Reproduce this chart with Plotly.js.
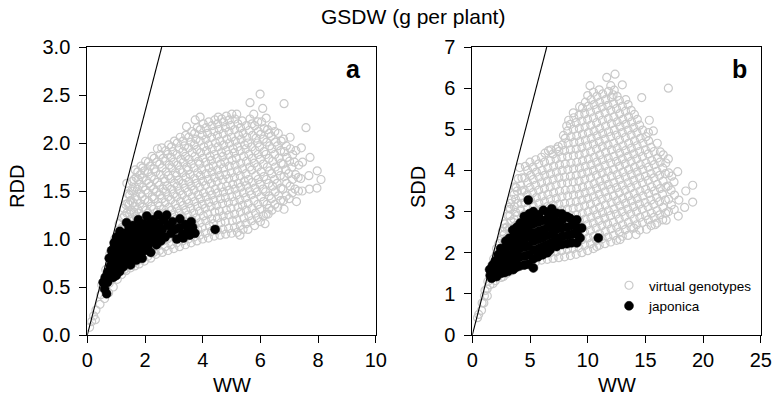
<!DOCTYPE html>
<html>
<head>
<meta charset="utf-8">
<script src="https://cdn.plot.ly/plotly-3.0.1.min.js"></script>
<style>html,body{margin:0;padding:0;background:#fff;}#chart{width:773px;height:399px;}</style>
</head>
<body>
<div id="chart"></div>
<script>
// Panel a: RDD vs WW (GSDW, g per plant)
const rddVirtual = [
[0.08,0.08],[0.15,0.14],[0.22,0.2],[0.28,0.16],[0.3,0.26],
[0.44,0.32],[0.47,0.42],[0.5,0.52],
[0.6,0.38],[0.58,0.48],[0.62,0.58],[0.64,0.68],
[0.74,0.44],[0.76,0.54],[0.73,0.64],[0.77,0.74],[0.78,0.84],
[0.9,0.5],[0.88,0.6],[0.92,0.7],[0.89,0.8],[0.93,0.9],[0.95,1.0],
[1.04,0.58],[1.07,0.66],[1.03,0.76],[1.06,0.86],[1.04,0.96],[1.08,1.06],[1.1,1.16],
[1.19,0.63],[1.22,0.72],[1.18,0.82],[1.21,0.92],[1.24,1.02],[1.2,1.12],[1.23,1.22],[1.26,1.32],
[1.34,0.67],[1.37,0.77],[1.33,0.87],[1.36,0.97],[1.38,1.07],[1.35,1.17],[1.37,1.27],[1.4,1.37],[1.42,1.47],[1.37,1.58],
[1.5,0.7],[1.52,0.8],[1.48,0.9],[1.51,1.0],[1.53,1.1],[1.49,1.2],[1.52,1.3],[1.5,1.4],[1.54,1.5],[1.56,1.6],
[1.65,0.72],[1.63,0.84],[1.67,0.94],[1.64,1.04],[1.66,1.14],[1.68,1.24],[1.64,1.34],[1.67,1.44],[1.65,1.54],[1.69,1.64],[1.66,1.72],
[1.8,0.74],[1.82,0.85],[1.78,0.96],[1.81,1.06],[1.84,1.16],[1.79,1.27],[1.82,1.37],[1.85,1.47],[1.8,1.57],[1.83,1.67],[1.86,1.76],
[1.98,0.77],[2.01,0.88],[2.03,0.99],[1.97,1.09],[2.0,1.2],[2.04,1.3],[1.99,1.41],[2.02,1.51],[2.05,1.61],[1.98,1.71],[2.02,1.81],
[2.2,0.8],[2.18,0.92],[2.23,1.02],[2.2,1.13],[2.17,1.24],[2.22,1.34],[2.25,1.44],[2.19,1.55],[2.22,1.65],[2.18,1.76],[2.24,1.86],
[2.38,0.84],[2.41,0.96],[2.44,1.06],[2.39,1.17],[2.42,1.28],[2.45,1.38],[2.4,1.49],[2.43,1.59],[2.37,1.7],[2.41,1.8],[2.43,1.94],
[2.6,0.86],[2.62,0.98],[2.58,1.09],[2.61,1.2],[2.64,1.31],[2.59,1.42],[2.62,1.52],[2.65,1.63],[2.6,1.74],[2.63,1.84],[2.58,1.95],
[2.8,0.88],[2.78,1.0],[2.82,1.11],[2.79,1.22],[2.83,1.33],[2.8,1.44],[2.77,1.55],[2.81,1.66],[2.84,1.77],[2.79,1.88],[2.82,1.98],
[3.0,0.9],[3.03,1.02],[2.98,1.13],[3.01,1.25],[3.04,1.36],[2.99,1.47],[3.02,1.58],[3.05,1.69],[3.0,1.8],[2.97,1.91],[3.02,2.02],
[3.2,0.92],[3.18,1.04],[3.22,1.16],[3.19,1.27],[3.23,1.39],[3.2,1.5],[3.17,1.61],[3.21,1.72],[3.24,1.83],[3.19,1.94],[3.22,2.06],
[3.4,0.94],[3.43,1.06],[3.38,1.18],[3.41,1.3],[3.44,1.41],[3.39,1.53],[3.42,1.64],[3.45,1.75],[3.4,1.86],[3.37,1.97],[3.41,2.08],[3.44,2.17],
[3.6,0.96],[3.58,1.08],[3.62,1.2],[3.59,1.32],[3.63,1.44],[3.6,1.55],[3.57,1.67],[3.61,1.78],[3.64,1.9],[3.59,2.01],[3.62,2.12],[3.74,2.24],
[3.8,0.98],[3.83,1.1],[3.78,1.22],[3.81,1.34],[3.84,1.46],[3.79,1.58],[3.82,1.69],[3.85,1.81],[3.8,1.93],[3.77,2.04],[3.81,2.16],[3.91,2.27],
[4.0,1.0],[3.98,1.12],[4.02,1.24],[3.99,1.36],[4.03,1.48],[4.0,1.6],[3.97,1.72],[4.01,1.84],[4.04,1.96],[3.99,2.08],[4.02,2.2],
[4.2,1.01],[4.23,1.14],[4.18,1.26],[4.21,1.38],[4.24,1.5],[4.19,1.62],[4.22,1.74],[4.25,1.86],[4.2,1.98],[4.17,2.1],[4.21,2.22],
[4.4,1.03],[4.38,1.16],[4.42,1.28],[4.39,1.4],[4.43,1.52],[4.4,1.64],[4.37,1.76],[4.41,1.88],[4.44,2.0],[4.39,2.12],[4.42,2.24],
[4.6,1.04],[4.63,1.17],[4.58,1.29],[4.61,1.42],[4.64,1.54],[4.59,1.66],[4.62,1.78],[4.65,1.9],[4.6,2.02],[4.57,2.14],[4.54,2.27],[4.66,2.25],
[4.8,1.05],[4.78,1.18],[4.82,1.3],[4.79,1.43],[4.83,1.55],[4.8,1.67],[4.77,1.8],[4.81,1.92],[4.84,2.04],[4.79,2.16],[4.82,2.28],
[5.0,1.06],[5.03,1.19],[4.98,1.32],[5.01,1.44],[5.04,1.57],[4.99,1.69],[5.02,1.82],[5.05,1.94],[5.0,2.06],[4.97,2.18],[5.01,2.3],
[5.2,1.07],[5.18,1.2],[5.22,1.33],[5.19,1.46],[5.23,1.58],[5.2,1.71],[5.17,1.84],[5.21,1.96],[5.24,2.08],[5.18,2.3],[5.22,2.2],
[5.29,1.04],[5.4,1.1],[5.43,1.22],[5.38,1.35],[5.41,1.48],[5.44,1.6],[5.39,1.73],[5.42,1.86],[5.45,1.98],[5.4,2.1],[5.37,2.23],
[5.57,1.1],[5.6,1.24],[5.58,1.37],[5.62,1.5],[5.59,1.62],[5.63,1.75],[5.6,1.88],[5.57,2.0],[5.61,2.13],[5.64,2.25],[5.64,2.42],
[5.8,1.14],[5.83,1.27],[5.78,1.4],[5.81,1.53],[5.84,1.66],[5.79,1.79],[5.82,1.92],[5.85,2.05],[5.8,2.18],[5.77,2.3],
[6.0,1.18],[5.98,1.31],[6.02,1.44],[5.99,1.57],[6.03,1.7],[6.0,1.83],[5.97,1.96],[6.01,2.09],[6.04,2.22],[6.08,2.36],[5.99,2.51],
[6.16,1.16],[6.2,1.26],[6.23,1.36],[6.18,1.49],[6.21,1.62],[6.24,1.75],[6.19,1.88],[6.22,2.01],[6.25,2.14],[6.2,2.26],
[6.27,1.26],[6.4,1.3],[6.38,1.42],[6.42,1.55],[6.39,1.68],[6.43,1.81],[6.4,1.94],[6.37,2.07],[6.41,2.18],
[6.6,1.33],[6.63,1.45],[6.58,1.58],[6.61,1.71],[6.64,1.84],[6.59,1.97],[6.62,2.1],
[6.82,1.31],[6.8,1.4],[6.78,1.52],[6.82,1.65],[6.79,1.78],[6.83,1.91],[6.8,2.04],[6.82,2.41],
[7.0,1.42],[7.03,1.55],[6.98,1.68],[7.01,1.81],[7.04,1.94],[7.03,2.06],
[7.25,1.39],[7.2,1.52],[7.22,1.67],[7.18,1.8],[7.23,1.92],
[7.45,1.5],[7.4,1.63],[7.46,1.8],[7.42,1.95],[7.58,2.16],
[7.7,1.52],[7.68,1.66],[7.72,1.85],
[7.96,1.53],[7.97,1.71],[8.1,1.62],
[1.12,0.7],[1.14,0.81],[1.1,0.9],[1.13,1.0],[1.15,1.1],
[1.28,0.68],[1.31,0.8],[1.29,0.9],[1.32,1.02],[1.3,1.12],[1.29,1.24],[1.33,1.36],
[1.44,0.74],[1.46,0.84],[1.43,0.95],[1.46,1.05],[1.44,1.16],[1.47,1.26],[1.45,1.36],[1.47,1.46],
[1.58,0.75],[1.6,0.86],[1.57,0.97],[1.6,1.08],[1.58,1.19],[1.61,1.28],[1.59,1.38],[1.6,1.5],[1.62,1.62],
[1.73,0.77],[1.74,0.9],[1.72,1.0],[1.74,1.11],[1.72,1.21],[1.75,1.31],[1.73,1.41],[1.74,1.52],[1.76,1.62],[1.75,1.7],
[1.9,0.79],[1.91,0.91],[1.89,1.02],[1.92,1.13],[1.9,1.24],[1.92,1.33],[1.9,1.44],[1.93,1.54],[1.91,1.64],[1.92,1.74],
[2.1,0.82],[2.11,0.95],[2.09,1.06],[2.12,1.17],[2.1,1.27],[2.12,1.39],[2.1,1.48],[2.13,1.58],[2.11,1.7],[2.12,1.8],
[2.3,0.86],[2.31,0.98],[2.29,1.1],[2.32,1.21],[2.3,1.31],[2.32,1.42],[2.3,1.52],[2.33,1.62],[2.31,1.73],[2.32,1.84],
[2.5,0.88],[2.51,1.02],[2.49,1.13],[2.52,1.24],[2.5,1.34],[2.52,1.46],[2.5,1.56],[2.53,1.67],[2.51,1.78],[2.52,1.88],
[2.7,0.92],[2.71,1.04],[2.69,1.16],[2.72,1.27],[2.7,1.38],[2.72,1.49],[2.7,1.6],[2.73,1.7],[2.71,1.81],[2.72,1.92],
[2.9,0.94],[2.91,1.07],[2.89,1.19],[2.92,1.3],[2.9,1.41],[2.92,1.52],[2.9,1.63],[2.93,1.74],[2.91,1.85],[2.92,1.96],
[3.1,0.96],[3.11,1.09],[3.09,1.21],[3.12,1.32],[3.1,1.44],[3.12,1.55],[3.1,1.66],[3.13,1.77],[3.11,1.88],[3.12,2.0],
[3.3,0.98],[3.31,1.11],[3.29,1.23],[3.32,1.35],[3.3,1.46],[3.32,1.58],[3.3,1.69],[3.33,1.8],[3.31,1.91],[3.32,2.02],
[3.5,1.0],[3.51,1.13],[3.49,1.25],[3.52,1.37],[3.5,1.49],[3.52,1.6],[3.5,1.72],[3.53,1.83],[3.51,1.95],[3.52,2.06],
[3.7,1.02],[3.71,1.15],[3.69,1.27],[3.72,1.39],[3.7,1.51],[3.72,1.63],[3.7,1.74],[3.73,1.86],[3.71,1.98],[3.72,2.1],
[3.9,1.04],[3.91,1.17],[3.89,1.29],[3.92,1.42],[3.9,1.54],[3.92,1.66],[3.9,1.78],[3.93,1.9],[3.91,2.02],[3.92,2.14],
[4.1,1.06],[4.11,1.19],[4.09,1.32],[4.12,1.44],[4.1,1.56],[4.12,1.68],[4.1,1.8],[4.13,1.92],[4.11,2.04],[4.12,2.16],
[4.3,1.08],[4.31,1.21],[4.29,1.34],[4.32,1.46],[4.3,1.58],[4.32,1.7],[4.3,1.82],[4.33,1.94],[4.31,2.06],[4.32,2.18],
[4.5,1.09],[4.51,1.22],[4.49,1.35],[4.52,1.48],[4.5,1.6],[4.52,1.72],[4.5,1.84],[4.53,1.96],[4.51,2.08],[4.52,2.2],
[4.7,1.1],[4.71,1.24],[4.69,1.37],[4.72,1.49],[4.7,1.62],[4.72,1.74],[4.7,1.86],[4.73,1.98],[4.71,2.1],[4.72,2.22],
[4.9,1.11],[4.91,1.25],[4.89,1.38],[4.92,1.51],[4.9,1.63],[4.92,1.76],[4.9,1.88],[4.93,2.0],[4.91,2.12],[4.92,2.24],
[5.1,1.12],[5.11,1.26],[5.09,1.39],[5.12,1.52],[5.1,1.64],[5.12,1.77],[5.1,1.9],[5.13,2.02],[5.11,2.14],[5.12,2.25],
[5.3,1.14],[5.31,1.28],[5.29,1.41],[5.32,1.54],[5.3,1.66],[5.32,1.79],[5.3,1.92],[5.33,2.04],[5.31,2.16],
[5.5,1.16],[5.51,1.3],[5.49,1.43],[5.52,1.56],[5.5,1.68],[5.52,1.81],[5.5,1.94],[5.53,2.06],[5.51,2.18],
[5.7,1.19],[5.71,1.32],[5.69,1.46],[5.72,1.59],[5.7,1.72],[5.72,1.84],[5.7,1.96],[5.73,2.08],[5.71,2.2],
[5.9,1.22],[5.91,1.36],[5.89,1.49],[5.92,1.62],[5.9,1.75],[5.92,1.88],[5.9,2.0],[5.93,2.12],[5.91,2.22],
[6.1,1.24],[6.11,1.39],[6.09,1.52],[6.12,1.65],[6.1,1.78],[6.12,1.91],[6.1,2.04],[6.13,2.15],
[6.3,1.32],[6.31,1.45],[6.29,1.58],[6.32,1.71],[6.3,1.84],[6.32,1.97],[6.3,2.1],
[6.5,1.36],[6.51,1.49],[6.49,1.62],[6.52,1.75],[6.5,1.88],[6.52,2.01],[6.5,2.12],
[6.7,1.4],[6.71,1.53],[6.69,1.66],[6.72,1.79],[6.7,1.92],[6.72,2.02],
[6.9,1.45],[6.91,1.58],[6.89,1.72],[6.92,1.85],[6.9,1.97],
[7.1,1.48],[7.11,1.62],[7.09,1.75],[7.12,1.88],
[7.32,1.5],[7.31,1.64],[7.33,1.77]
];
const rddJaponica = [
[0.55,0.55],[0.6,0.48],[0.67,0.43],[0.62,0.6],[0.7,0.55],[0.72,0.66],[0.78,0.6],[0.8,0.72],[0.76,0.8],
[0.85,0.65],[0.88,0.78],[0.84,0.88],[0.9,0.6],[0.92,0.7],[0.95,0.84],[0.93,0.96],[0.98,0.76],[1.0,0.62],
[1.0,0.9],[1.02,1.02],[1.05,0.72],[1.08,0.82],[1.1,0.95],[1.13,1.08],[1.12,0.66],[1.18,0.76],[1.2,0.88],
[1.22,1.0],[1.25,0.71],[1.28,0.82],[1.3,0.94],[1.32,1.06],[1.36,1.17],[1.35,0.76],[1.4,0.88],[1.42,1.0],
[1.45,1.12],[1.48,0.8],[1.52,0.92],[1.55,1.04],[1.5,0.73],[1.58,1.14],[1.6,0.84],[1.65,0.96],[1.68,1.08],
[1.7,0.78],[1.77,1.2],[1.75,0.9],[1.78,1.02],[1.82,1.12],[1.85,0.84],[1.88,0.95],[1.9,0.8],[1.9,1.06],
[1.95,1.16],[1.98,0.88],[2.0,1.0],[2.06,1.24],[2.04,1.1],[2.1,0.92],[2.12,1.04],[2.15,1.16],[2.2,0.86],
[2.2,0.97],[2.22,1.08],[2.28,1.2],[2.3,1.0],[2.35,1.12],[2.4,0.94],[2.46,1.25],[2.45,1.05],[2.5,1.16],
[2.55,0.98],[2.6,1.1],[2.65,1.2],[2.75,1.25],[2.7,1.02],[2.8,1.14],[2.9,1.06],[2.95,1.18],[3.05,1.1],
[3.1,1.0],[3.21,1.21],[3.2,1.12],[3.3,1.05],[3.33,1.01],[3.4,1.15],[3.5,1.1],[3.6,1.18],[3.55,1.04],
[3.73,1.06],[3.65,1.12],[4.43,1.1]
];
// Panel b: SDD vs WW
const sddVirtual = [
[0.45,0.42],[0.55,0.5],[0.8,0.6],[0.85,0.78],[1.0,0.78],[1.05,0.95],[1.1,1.08],
[1.3,0.95],[1.28,1.12],[1.35,1.3],[1.53,1.22],[1.55,1.4],[1.6,1.58],
[1.8,1.25],[1.78,1.45],[1.83,1.65],[1.85,1.85],
[2.0,1.32],[2.05,1.52],[2.02,1.74],[2.08,1.96],[2.1,2.1],
[2.5,1.4],[2.45,1.62],[2.52,1.86],[2.48,2.1],[2.55,2.32],[2.6,2.52],
[2.7,1.42],[2.75,1.72],[2.72,2.0],[2.78,2.28],[2.8,2.6],
[3.0,1.5],[3.02,1.78],[2.98,2.06],[3.05,2.34],[3.0,2.62],[3.1,2.9],[3.15,3.1],
[3.3,1.55],[3.28,1.86],[3.32,2.16],[3.3,2.46],[3.35,2.76],[3.3,3.06],[3.4,3.3],
[3.6,1.6],[3.62,1.88],[3.58,2.2],[3.63,2.5],[3.6,2.82],[3.65,3.12],[3.62,3.42],[3.7,3.6],
[3.9,1.64],[3.92,1.96],[3.88,2.26],[3.93,2.58],[3.9,2.9],[3.95,3.2],[3.9,3.5],[3.98,3.8],
[4.13,1.67],[4.15,1.82],[4.2,2.1],[4.18,2.42],[4.22,2.72],[4.2,3.04],[4.25,3.34],[4.2,3.64],[4.1,4.07],
[4.5,1.7],[4.52,1.98],[4.48,2.3],[4.53,2.6],[4.5,2.92],[4.55,3.22],[4.5,3.52],[4.55,3.82],[4.6,4.1],
[5.0,1.74],[5.02,2.02],[4.98,2.34],[5.03,2.66],[5.0,2.96],[5.05,3.28],[5.0,3.58],[5.05,3.88],[5.0,4.2],
[5.5,1.78],[5.52,2.08],[5.48,2.4],[5.53,2.7],[5.5,3.02],[5.55,3.34],[5.5,3.64],[5.55,3.96],[5.5,4.26],
[6.0,1.82],[6.02,2.14],[5.98,2.44],[6.03,2.76],[6.0,3.06],[6.05,3.38],[6.0,3.7],[6.05,4.0],[6.0,4.32],
[6.5,1.84],[6.52,2.18],[6.48,2.48],[6.53,2.8],[6.5,3.12],[6.55,3.42],[6.5,3.74],[6.55,4.06],[6.6,4.48],
[7.0,1.86],[7.02,2.2],[6.98,2.52],[7.03,2.84],[7.0,3.16],[7.05,3.46],[7.0,3.78],[7.05,4.1],[7.0,4.4],
[7.5,1.88],[7.52,2.22],[7.48,2.54],[7.53,2.86],[7.5,3.18],[7.55,3.5],[7.5,3.82],[7.55,4.14],[7.5,4.46],[7.45,4.58],
[8.0,1.9],[8.02,2.24],[7.98,2.56],[8.03,2.88],[8.0,3.2],[8.05,3.52],[8.0,3.84],[8.05,4.16],[8.0,4.48],[8.05,4.78],[8.18,5.08],
[8.5,1.93],[8.52,2.26],[8.48,2.58],[8.53,2.9],[8.5,3.22],[8.55,3.54],[8.5,3.86],[8.55,4.18],[8.5,4.5],[8.55,4.82],[8.5,5.12],[8.75,5.4],
[9.0,1.96],[9.02,2.28],[8.98,2.6],[9.03,2.92],[9.0,3.24],[9.05,3.56],[9.0,3.88],[9.05,4.2],[9.0,4.52],[9.05,4.84],[9.0,5.16],[9.3,5.55],
[9.5,2.0],[9.52,2.32],[9.48,2.64],[9.53,2.96],[9.5,3.28],[9.55,3.6],[9.5,3.92],[9.55,4.24],[9.5,4.56],[9.55,4.88],[9.5,5.2],[9.55,5.52],
[10.0,2.05],[10.02,2.36],[9.98,2.68],[10.03,3.0],[10.0,3.32],[10.05,3.64],[10.0,3.96],[10.05,4.28],[10.0,4.6],[10.05,4.92],[10.0,5.24],[10.05,5.56],[10.0,5.82],[10.2,6.06],
[10.5,2.1],[10.52,2.4],[10.48,2.72],[10.53,3.04],[10.5,3.36],[10.55,3.68],[10.5,4.0],[10.55,4.32],[10.5,4.64],[10.55,4.96],[10.5,5.28],[10.55,5.6],[10.5,5.9],
[10.78,2.15],
[11.0,2.18],[11.02,2.46],[10.98,2.78],[11.03,3.1],[11.0,3.42],[11.05,3.74],[11.0,4.06],[11.05,4.38],[11.0,4.7],[11.05,5.02],[11.0,5.34],[11.05,5.66],[11.0,5.96],
[11.5,2.22],[11.52,2.52],[11.48,2.84],[11.53,3.16],[11.5,3.48],[11.55,3.8],[11.5,4.12],[11.55,4.44],[11.5,4.76],[11.55,5.08],[11.5,5.4],[11.55,5.72],[11.65,6.26],
[12.0,2.26],[12.02,2.58],[11.98,2.9],[12.03,3.22],[12.0,3.54],[12.05,3.86],[12.0,4.18],[12.05,4.5],[12.0,4.82],[12.05,5.14],[12.0,5.46],[12.05,5.78],[12.2,5.84],[12.0,6.06],[12.37,6.34],
[12.5,2.3],[12.52,2.62],[12.48,2.94],[12.53,3.26],[12.5,3.58],[12.55,3.9],[12.5,4.22],[12.55,4.54],[12.5,4.86],[12.55,5.18],[12.5,5.5],[12.55,5.8],
[12.8,2.32],[13.0,2.4],[13.02,2.68],[12.98,3.0],[13.03,3.32],[13.0,3.64],[13.05,3.96],[13.0,4.28],[13.05,4.6],[13.0,4.92],[13.05,5.24],[13.0,5.56],[13.0,6.08],
[13.5,2.42],[13.52,2.74],[13.48,3.06],[13.53,3.38],[13.5,3.7],[13.55,4.02],[13.5,4.34],[13.55,4.66],[13.5,4.98],[13.55,5.3],[13.5,5.6],
[14.19,2.44],[14.0,2.6],[14.02,2.82],[13.98,3.12],[14.03,3.44],[14.0,3.76],[14.05,4.08],[14.0,4.4],[14.05,4.72],[14.0,5.04],[14.05,5.36],
[14.5,2.55],[14.52,2.86],[14.48,3.18],[14.53,3.5],[14.5,3.82],[14.55,4.14],[14.5,4.46],[14.55,4.78],[14.5,5.1],[14.68,5.77],
[15.1,2.57],[15.02,2.9],[14.98,3.22],[15.03,3.54],[15.0,3.86],[15.05,4.18],[15.0,4.5],[15.05,4.82],[15.34,5.22],
[15.5,2.66],[15.83,2.68],[15.52,2.96],[15.48,3.28],[15.53,3.6],[15.5,3.92],[15.55,4.24],[15.5,4.56],[15.69,4.96],
[16.0,2.72],[16.02,3.02],[15.98,3.34],[16.03,3.66],[16.0,3.98],[16.05,4.3],[16.03,4.66],
[16.5,2.8],[16.52,3.1],[16.48,3.42],[16.53,3.74],[16.5,4.06],[16.55,4.38],
[16.8,2.79],[17.0,3.0],[17.02,3.3],[16.98,3.62],[17.03,3.94],[16.99,4.28],[16.99,6.0],
[17.5,3.05],[17.52,3.4],[17.48,3.72],[17.8,3.97],
[17.85,2.89],[17.9,3.28],[18.4,3.1],[18.5,3.5],
[19.1,3.23],[19.1,3.64],
[2.25,1.45],[2.28,1.7],[2.24,1.98],[2.3,2.22],
[2.76,1.58],[2.74,1.86],[2.78,2.14],[2.75,2.44],[2.8,2.7],
[3.25,1.66],[3.22,1.98],[3.27,2.28],[3.24,2.6],[3.26,2.9],[3.3,3.2],
[3.75,1.74],[3.73,2.05],[3.78,2.38],[3.74,2.66],[3.77,2.98],[3.75,3.3],[3.8,3.58],
[4.25,1.98],[4.28,2.26],[4.24,2.58],[4.27,2.86],[4.25,3.2],[4.29,3.5],[4.3,3.82],
[4.75,1.84],[4.73,2.16],[4.78,2.46],[4.74,2.78],[4.77,3.08],[4.75,3.4],[4.78,3.7],[4.8,4.0],
[5.25,1.9],[5.23,2.2],[5.28,2.52],[5.24,2.84],[5.27,3.14],[5.25,3.46],[5.28,3.78],[5.26,4.08],
[5.75,1.94],[5.73,2.26],[5.78,2.58],[5.74,2.9],[5.77,3.2],[5.75,3.52],[5.78,3.84],[5.76,4.16],
[6.25,1.98],[6.23,2.3],[6.28,2.62],[6.24,2.94],[6.27,3.24],[6.25,3.56],[6.28,3.88],[6.26,4.2],[6.3,4.42],
[6.75,2.0],[6.73,2.34],[6.78,2.66],[6.74,2.98],[6.77,3.3],[6.75,3.6],[6.78,3.92],[6.76,4.24],[6.8,4.5],
[7.25,2.02],[7.23,2.36],[7.28,2.68],[7.24,3.0],[7.27,3.32],[7.25,3.64],[7.28,3.96],[7.26,4.28],[7.3,4.52],
[7.75,2.05],[7.73,2.38],[7.78,2.7],[7.74,3.04],[7.77,3.36],[7.75,3.68],[7.78,4.0],[7.76,4.32],[7.8,4.62],[7.9,4.85],
[8.25,2.08],[8.23,2.4],[8.28,2.72],[8.24,3.06],[8.27,3.38],[8.25,3.7],[8.28,4.02],[8.26,4.34],[8.3,4.66],[8.27,4.96],[8.35,5.22],
[8.75,2.1],[8.73,2.42],[8.78,2.76],[8.74,3.08],[8.77,3.4],[8.75,3.72],[8.78,4.04],[8.76,4.36],[8.8,4.68],[8.77,5.0],[8.8,5.28],
[9.25,2.12],[9.23,2.44],[9.28,2.78],[9.24,3.1],[9.27,3.42],[9.25,3.74],[9.28,4.06],[9.26,4.38],[9.3,4.7],[9.27,5.02],[9.25,5.34],
[9.75,2.18],[9.73,2.5],[9.78,2.82],[9.74,3.14],[9.77,3.46],[9.75,3.78],[9.78,4.1],[9.76,4.42],[9.8,4.74],[9.77,5.06],[9.75,5.38],[9.8,5.66],
[10.25,2.22],[10.23,2.54],[10.28,2.86],[10.24,3.18],[10.27,3.5],[10.25,3.82],[10.28,4.14],[10.26,4.46],[10.3,4.78],[10.27,5.1],[10.25,5.42],[10.3,5.72],
[10.75,2.3],[10.73,2.6],[10.78,2.92],[10.74,3.24],[10.77,3.56],[10.75,3.88],[10.78,4.2],[10.76,4.52],[10.8,4.84],[10.77,5.16],[10.75,5.48],[10.8,5.8],
[11.25,2.34],[11.23,2.66],[11.28,2.98],[11.24,3.3],[11.27,3.62],[11.25,3.94],[11.28,4.26],[11.26,4.58],[11.3,4.9],[11.27,5.22],[11.25,5.54],[11.3,5.86],
[11.75,2.38],[11.73,2.7],[11.78,3.02],[11.74,3.34],[11.77,3.66],[11.75,3.98],[11.78,4.3],[11.76,4.62],[11.8,4.94],[11.77,5.26],[11.75,5.58],[11.8,5.92],
[12.25,2.42],[12.23,2.74],[12.28,3.06],[12.24,3.38],[12.27,3.7],[12.25,4.02],[12.28,4.34],[12.26,4.66],[12.3,4.98],[12.27,5.3],[12.25,5.62],[12.3,5.95],
[12.75,2.5],[12.73,2.82],[12.78,3.14],[12.74,3.46],[12.77,3.78],[12.75,4.1],[12.78,4.42],[12.76,4.74],[12.8,5.06],[12.77,5.38],[12.75,5.7],
[13.25,2.56],[13.23,2.88],[13.28,3.2],[13.24,3.52],[13.27,3.84],[13.25,4.16],[13.28,4.48],[13.26,4.8],[13.3,5.12],[13.27,5.44],[13.3,5.72],
[13.75,2.62],[13.73,2.94],[13.78,3.26],[13.74,3.58],[13.77,3.9],[13.75,4.22],[13.78,4.54],[13.76,4.86],[13.8,5.18],[13.77,5.46],
[14.25,2.68],[14.23,3.0],[14.28,3.32],[14.24,3.64],[14.27,3.96],[14.25,4.28],[14.28,4.6],[14.26,4.92],[14.3,5.24],
[14.75,2.74],[14.73,3.06],[14.78,3.38],[14.74,3.7],[14.77,4.02],[14.75,4.34],[14.78,4.66],[14.76,4.98],
[15.25,2.8],[15.23,3.12],[15.28,3.44],[15.24,3.76],[15.27,4.08],[15.25,4.4],[15.28,4.72],[15.26,4.92],
[15.75,2.86],[15.73,3.18],[15.78,3.5],[15.74,3.82],[15.77,4.14],[15.75,4.46],
[16.25,2.92],[16.23,3.24],[16.28,3.56],[16.24,3.88],[16.27,4.2],[16.3,4.45],
[16.75,2.96],[16.73,3.28],[16.78,3.6],[16.74,3.92],[16.77,4.18],
[17.25,3.16],[17.23,3.52],[17.28,3.86]
];
const sddJaponica = [
[1.5,1.59],[1.55,1.45],[1.68,1.38],[1.72,1.55],[1.75,1.7],
[2.0,1.45],[2.05,1.62],[2.0,1.8],[2.11,1.42],[2.25,1.55],[2.2,1.75],[2.25,1.95],
[2.5,1.5],[2.55,1.7],[2.5,1.9],[2.45,2.1],
[2.8,1.52],[2.85,1.72],[2.8,1.92],[2.85,2.12],[2.9,2.28],
[3.1,1.55],[3.15,1.75],[3.1,1.95],[3.15,2.15],[3.2,2.35],
[3.55,1.59],[3.5,1.78],[3.55,1.98],[3.5,2.18],[3.55,2.38],[3.5,2.55],
[3.8,1.65],[3.85,1.85],[3.8,2.05],[3.85,2.25],[3.8,2.45],[3.85,2.62],
[4.1,1.68],[4.15,1.9],[4.1,2.1],[4.15,2.3],[4.1,2.5],[4.24,2.55],[4.15,2.72],
[4.5,1.7],[4.55,1.92],[4.5,2.14],[4.55,2.34],[4.5,2.54],[4.55,2.74],[4.5,2.88],
[4.85,3.28],[4.85,1.72],[4.9,1.95],[4.85,2.16],[4.9,2.38],[4.85,2.58],[4.9,2.78],[4.95,2.95],
[5.29,1.63],[5.3,1.85],[5.35,2.06],[5.3,2.28],[5.35,2.48],[5.3,2.7],[5.35,2.88],[5.29,3.0],
[5.7,1.9],[5.75,2.1],[5.7,2.32],[5.75,2.52],[5.7,2.74],[5.75,2.92],
[6.1,1.95],[6.15,2.15],[6.1,2.36],[6.15,2.56],[6.1,2.78],[6.16,3.03],
[6.5,2.0],[6.55,2.2],[6.5,2.42],[6.55,2.62],[6.5,2.82],[6.55,2.98],
[6.73,2.07],[6.9,2.25],[6.95,2.45],[6.9,2.66],[6.88,3.07],[6.95,2.86],
[7.3,2.15],[7.35,2.35],[7.3,2.56],[7.35,2.76],[7.3,2.96],
[7.75,2.2],[7.8,2.4],[7.75,2.6],[7.8,2.8],[7.75,2.95],
[8.2,2.22],[8.25,2.42],[8.2,2.62],[8.18,2.88],
[8.6,2.24],[8.65,2.45],[8.6,2.66],[8.46,2.84],
[9.05,2.24],[9.1,2.45],[9.05,2.62],[9.05,2.8],
[9.34,2.36],[9.48,2.6],[10.92,2.36]
];
// Reference lines
const refLineAX = [0, 2.58], refLineAY = [0, 3];
const refLineBX = [0, 6.45], refLineBY = [0, 7];
// Axis ticks
const xTicksA = [0, 2, 4, 6, 8, 10];
const yTicksA = [0, 0.5, 1, 1.5, 2, 2.5, 3];
const xTicksB = [0, 5, 10, 15, 20, 25];
const yTicksB = [0, 1, 2, 3, 4, 5, 6, 7];
const seriesNames = ['virtual genotypes', 'japonica'];

const FONT = 'Liberation Sans, Arial, Helvetica, sans-serif';
const GRAY = '#c9c9c9';
const xs = a => a.map(p => p[0]);
const ys = a => a.map(p => p[1]);

function grayTrace(d, xa, ya, show) {
  return {x: xs(d), y: ys(d), xaxis: xa, yaxis: ya, type: 'scatter', mode: 'markers',
    name: seriesNames[0], showlegend: show, cliponaxis: true,
    marker: {symbol: 'circle-open', size: 8, color: GRAY, line: {color: GRAY, width: 1.2}}};
}
function blackTrace(d, xa, ya, show) {
  return {x: xs(d), y: ys(d), xaxis: xa, yaxis: ya, type: 'scatter', mode: 'markers',
    name: seriesNames[1], showlegend: show, cliponaxis: true,
    marker: {symbol: 'circle', size: 9, color: '#000', line: {color: '#000', width: 0.5}}};
}
function lineTrace(x, y, xa, ya) {
  return {x: x, y: y, xaxis: xa, yaxis: ya, type: 'scatter', mode: 'lines', showlegend: false,
    line: {color: '#000', width: 1.1}, hoverinfo: 'skip'};
}

const data = [
  grayTrace(rddVirtual, 'x', 'y', false),
  blackTrace(rddJaponica, 'x', 'y', false),
  lineTrace(refLineAX, refLineAY, 'x', 'y'),
  grayTrace(sddVirtual, 'x2', 'y2', true),
  blackTrace(sddJaponica, 'x2', 'y2', true),
  lineTrace(refLineBX, refLineBY, 'x2', 'y2')
];

function axis(dom, rng, tv, fmt, anchor, standoff) {
  return {domain: dom, range: rng, tickvals: tv, tickformat: fmt, anchor: anchor,
    showgrid: false, zeroline: false, showline: true, mirror: true, linecolor: '#000', linewidth: 1,
    ticks: 'outside', ticklen: 7, tickwidth: 1, tickcolor: '#000', ticklabelstandoff: standoff,
    tickfont: {family: FONT, size: 20, color: '#000'}, fixedrange: true, automargin: false};
}
const yDom = [1 - 335/399, 1 - 47/399];
const layout = {
  width: 773, height: 399,
  margin: {l: 0, r: 0, t: 0, b: 0},
  paper_bgcolor: '#fff', plot_bgcolor: '#fff',
  font: {family: FONT, color: '#000'},
  xaxis: axis([87.3/773, 375.8/773], [0, 10], xTicksA, 'd', 'y', 0),
  yaxis: axis(yDom, [0, 3], yTicksA, '.1f', 'x', 5),
  xaxis2: axis([472.3/773, 760.8/773], [0, 25], xTicksB, 'd', 'y2', 0),
  yaxis2: axis(yDom, [0, 7], yTicksB, 'd', 'x2', 5),
  showlegend: true,
  legend: {x: 609/773, y: 1 - 270/399, xanchor: 'left', yanchor: 'top',
    bgcolor: 'rgba(0,0,0,0)', borderwidth: 0, font: {family: FONT, size: 13.5, color: '#000'},
    tracegroupgap: 0, itemclick: false},
  annotations: [
    {text: 'GSDW (g per plant)', xref: 'paper', yref: 'paper', x: 413/773, y: 1 - 17/399,
     xanchor: 'center', yanchor: 'middle', showarrow: false, font: {family: FONT, size: 21}},
    {text: 'a', xref: 'paper', yref: 'paper', x: 353/773, y: 1 - 69/399,
     xanchor: 'center', yanchor: 'middle', showarrow: false, font: {family: FONT, size: 25, weight: 'bold'}},
    {text: 'b', xref: 'paper', yref: 'paper', x: 739/773, y: 1 - 69/399,
     xanchor: 'center', yanchor: 'middle', showarrow: false, font: {family: FONT, size: 25, weight: 'bold'}},
    {text: 'RDD', xref: 'paper', yref: 'paper', x: 17/773, y: 1 - 187/399, textangle: -90,
     xanchor: 'center', yanchor: 'middle', showarrow: false, font: {family: FONT, size: 20}},
    {text: 'SDD', xref: 'paper', yref: 'paper', x: 418/773, y: 1 - 187/399, textangle: -90,
     xanchor: 'center', yanchor: 'middle', showarrow: false, font: {family: FONT, size: 20}},
    {text: 'WW', xref: 'paper', yref: 'paper', x: 231.5/773, y: 1 - 385/399,
     xanchor: 'center', yanchor: 'middle', showarrow: false, font: {family: FONT, size: 20}},
    {text: 'WW', xref: 'paper', yref: 'paper', x: 616.5/773, y: 1 - 385/399,
     xanchor: 'center', yanchor: 'middle', showarrow: false, font: {family: FONT, size: 20}}
  ]
};
Plotly.newPlot('chart', data, layout, {staticPlot: true, displayModeBar: false});
</script>
</body>
</html>
